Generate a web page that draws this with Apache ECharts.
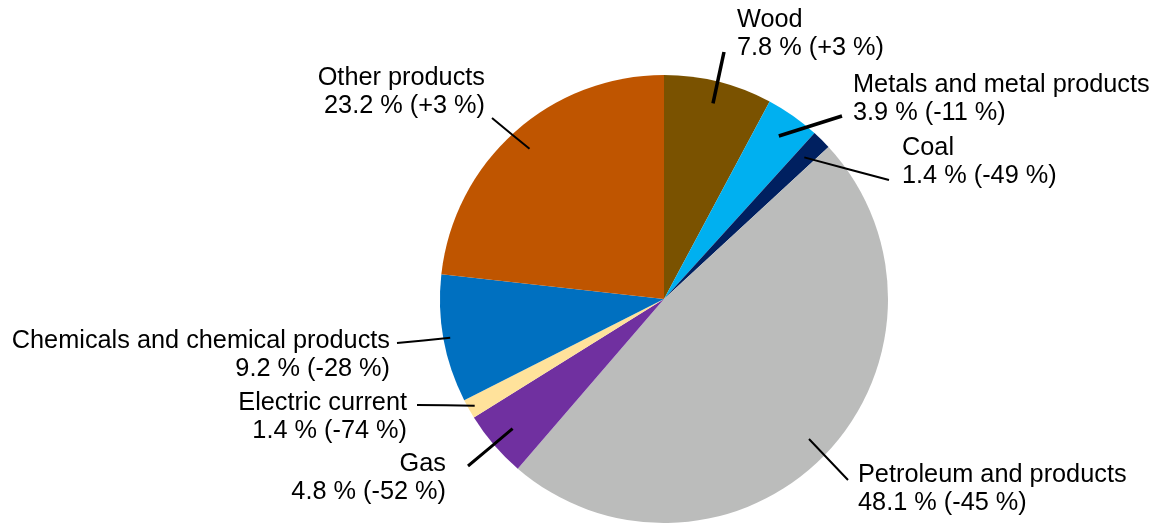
<!DOCTYPE html>
<html>
<head>
<meta charset="utf-8">
<script src="https://cdn.jsdelivr.net/npm/echarts@6/dist/echarts.min.js"></script>
<style>
  html, body { margin: 0; padding: 0; background: #fff; }
  #chart { width: 1165px; height: 523px; }
</style>
</head>
<body>
<div id="chart"></div>
<script>
// data (share of total, change vs previous period)
var categories = ['Wood', 'Metals and metal products', 'Coal', 'Petroleum and products',
  'Gas', 'Electric current', 'Chemicals and chemical products', 'Other products'];
var shares = [7.8, 3.9, 1.4, 48.1, 4.8, 1.4, 9.2, 23.2];
var changes = ['+3', '-11', '-49', '-45', '-52', '-74', '-28', '+3'];
var colors = ['#7a5200', '#00b0f0', '#002060', '#bbbcbb', '#7030a0', '#ffe29b', '#0070c0', '#bf5500'];

// pie geometry
var cx = 664, cy = 299, radius = 224;

// where each label sits and where its leader line ends
var labelSpots = [
  { x: 737, y: 34,  align: 'left',  end: [724, 52],  inner: 0.9,  w: 3.5 },
  { x: 853, y: 99,  align: 'left',  end: [842, 116], inner: 0.89, w: 3.5 },
  { x: 902, y: 162, align: 'left',  end: [889, 180], inner: 0.89, w: 2 },
  { x: 858, y: 489, align: 'left',  end: [848, 480], inner: 0.9,  w: 2 },
  { x: 446, y: 478, align: 'right', end: [468, 466], inner: 0.89, w: 3 },
  { x: 407, y: 417, align: 'right', end: [417, 405], inner: 0.97, w: 2 },
  { x: 390, y: 355, align: 'right', end: [397, 343], inner: 0.97, w: 2 },
  { x: 485, y: 92,  align: 'right', end: [492, 118], inner: 0.9,  w: 2 }
];

var total = shares.reduce(function (a, b) { return a + b; }, 0);

// leader start: inside the slice, on its middle angle
function leaderStart(i) {
  var before = 0;
  for (var k = 0; k < i; k++) before += shares[k];
  var mid = (before + shares[i] / 2) / total * 360;
  var a = (90 - mid) * Math.PI / 180;
  var rr = radius * labelSpots[i].inner;
  return [cx + Math.cos(a) * rr, cy - Math.sin(a) * rr];
}

var pieBase = {
  type: 'pie',
  center: [cx, cy],
  radius: radius,
  startAngle: 90,
  clockwise: true,
  emphasis: { disabled: true },
  silent: true
};

// bottom pie: the coloured slices only
var slices = Object.assign({}, pieBase, {
  z: 2,
  label: { show: false },
  labelLine: { show: false },
  itemStyle: { borderWidth: 0 },
  data: categories.map(function (name, i) {
    return { name: name, value: shares[i], itemStyle: { color: colors[i] } };
  })
});

// top pie: transparent, only carries labels and leader lines so lines sit over the slices
var labels = Object.assign({}, pieBase, {
  z: 5,
  itemStyle: { color: 'rgba(0,0,0,0)', borderWidth: 0 },
  data: categories.map(function (name, i) {
    return {
      name: name,
      value: shares[i],
      labelLine: { lineStyle: { width: labelSpots[i].w } }
    };
  }),
  label: {
    show: true,
    position: 'outside',
    overflow: 'none',
    color: '#000',
    fontFamily: 'Liberation Sans, Arial, sans-serif',
    fontSize: 25.3,
    lineHeight: 28,
    formatter: function (p) {
      return p.name + '\n' + p.value + ' % (' + changes[p.dataIndex] + ' %)';
    }
  },
  labelLine: {
    show: true,
    lineStyle: { color: '#000', width: 2 }
  },
  labelLayout: function (params) {
    var s = labelSpots[params.dataIndex];
    var st = leaderStart(params.dataIndex);
    var md = [(st[0] + s.end[0]) / 2, (st[1] + s.end[1]) / 2];
    return {
      x: s.x,
      y: s.y,
      align: s.align,
      verticalAlign: 'middle',
      labelLinePoints: [st, md, s.end]
    };
  }
});

var chart = echarts.init(document.getElementById('chart'));
chart.setOption({
  animation: false,
  series: [slices, labels]
});
</script>
</body>
</html>
